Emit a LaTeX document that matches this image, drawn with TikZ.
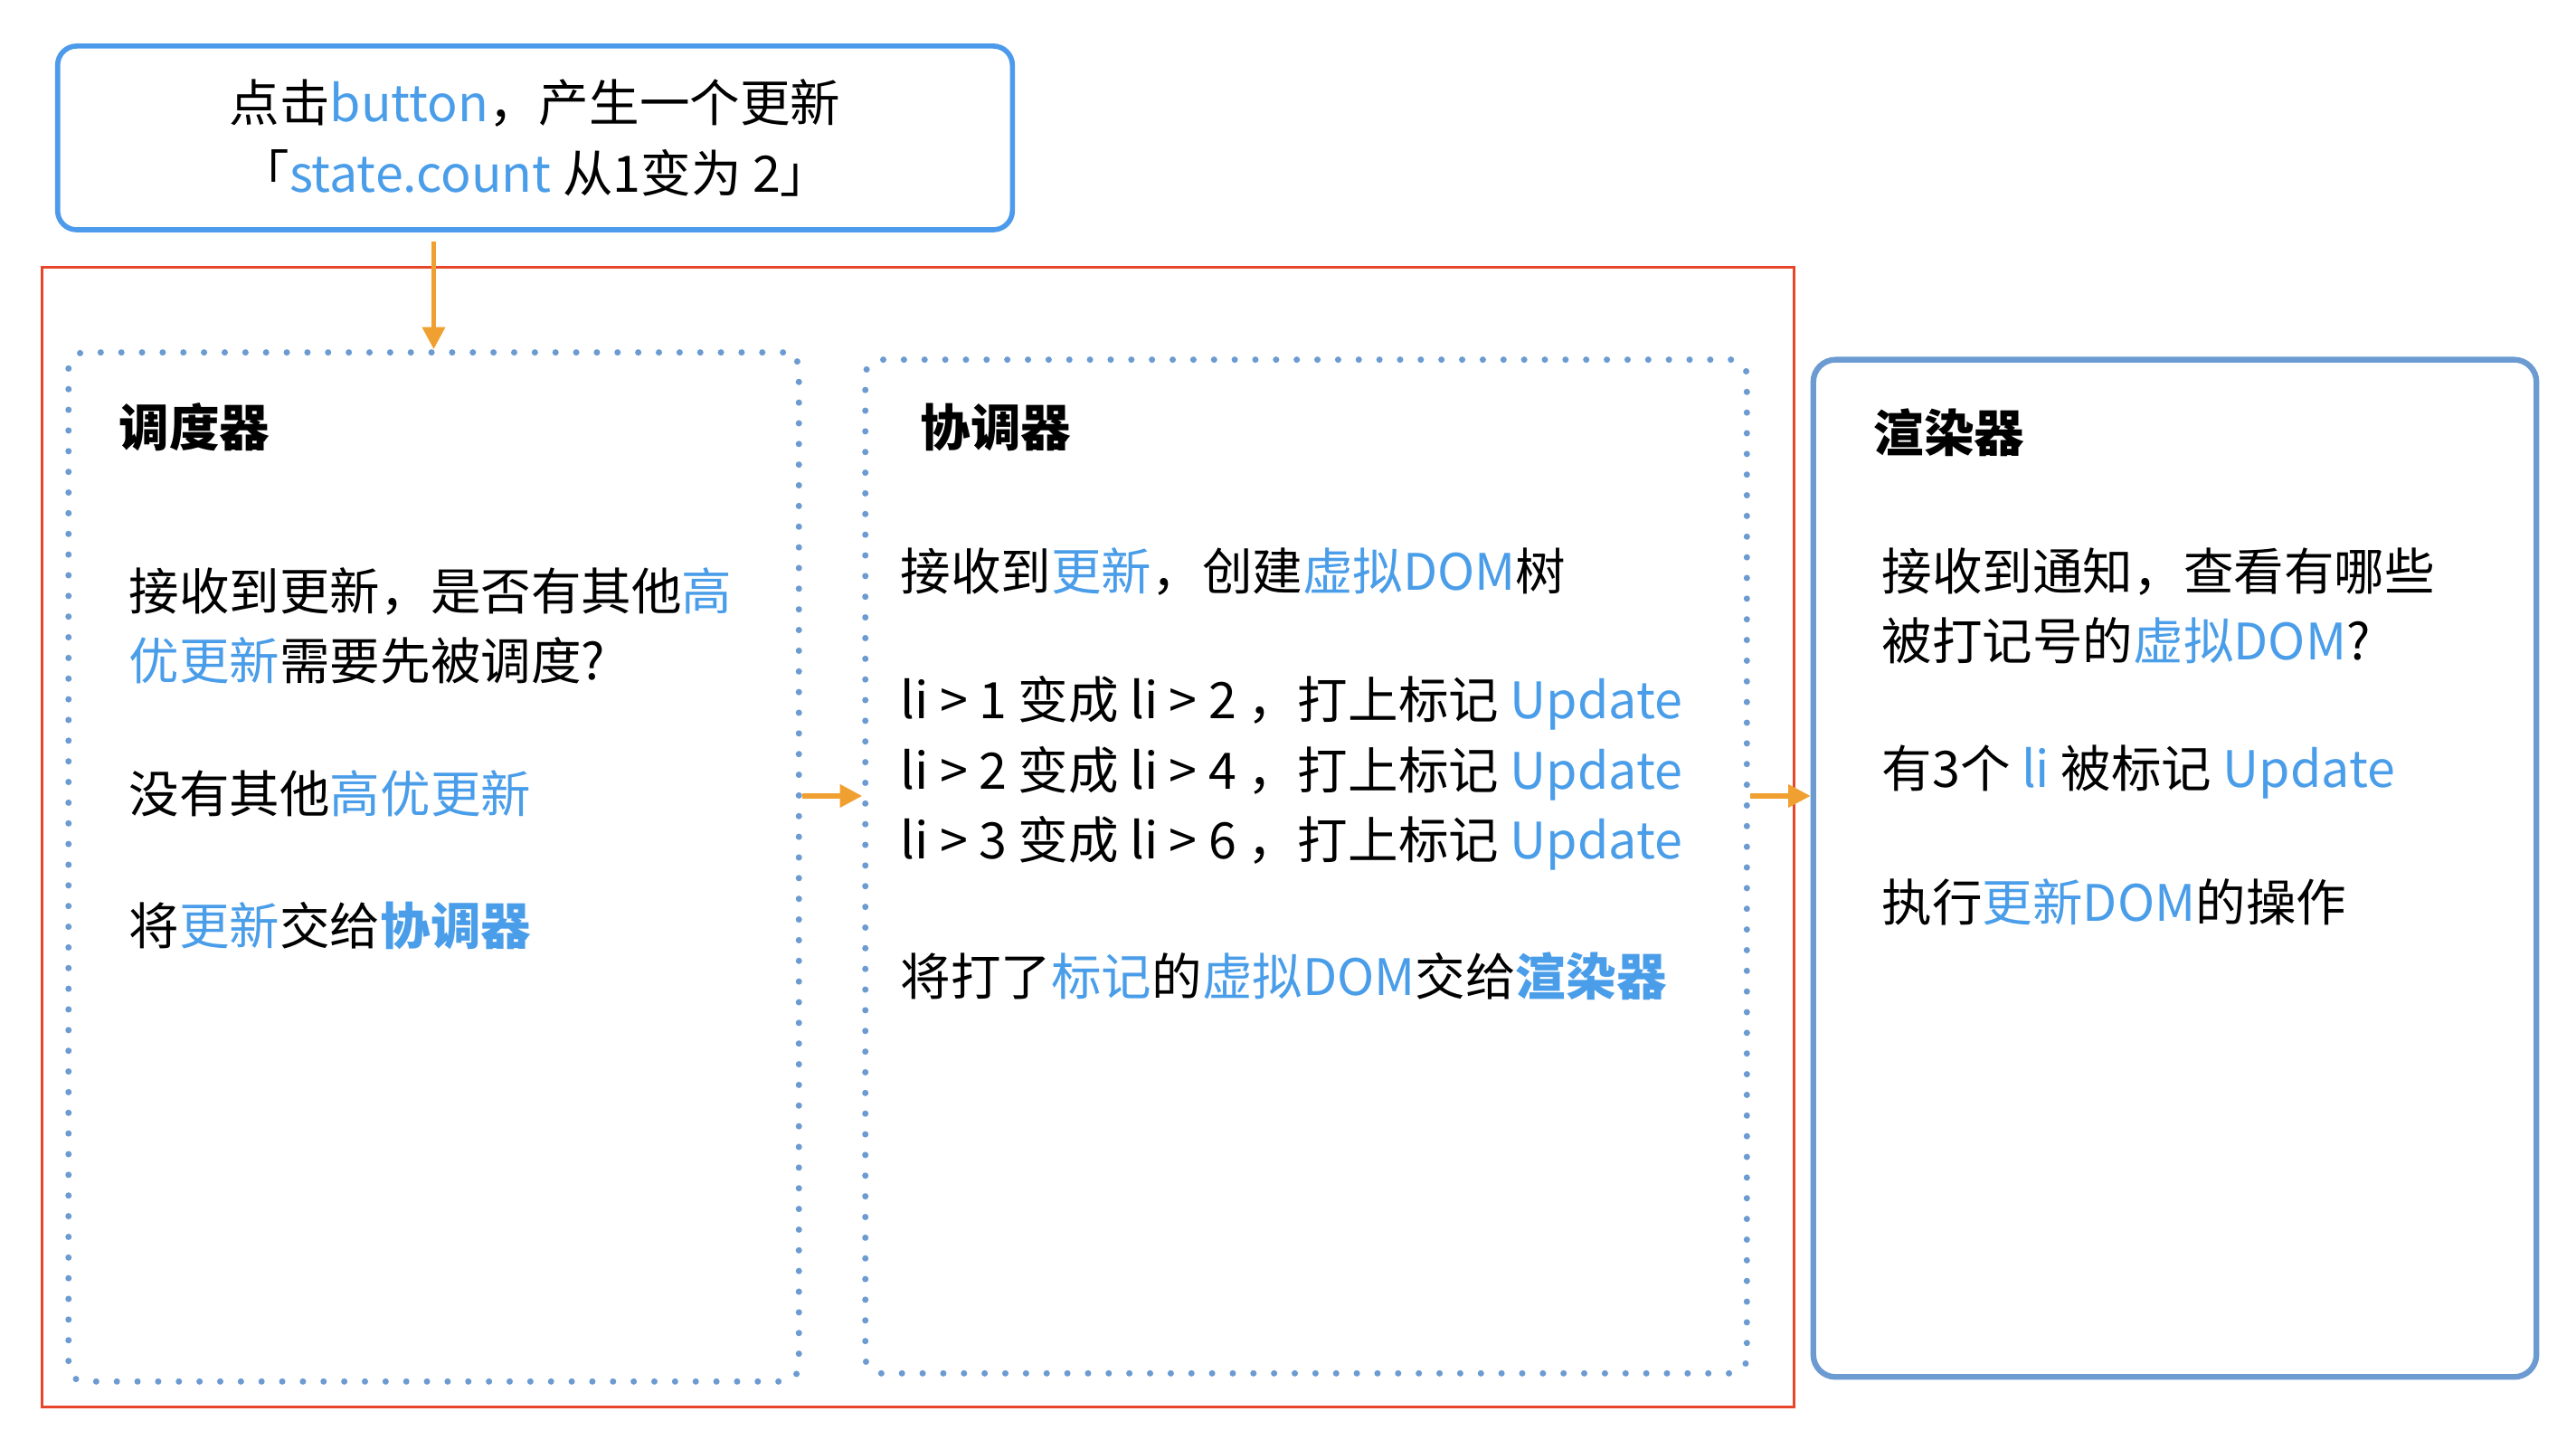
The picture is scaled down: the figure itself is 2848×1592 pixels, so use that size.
\documentclass[tikz,border=0pt]{standalone}
\usepackage{fontspec}
\usepackage{xcolor}
\usepackage{tikz}
\usetikzlibrary{arrows.meta}
\setmainfont{Noto Sans CJK SC}
\definecolor{reactblue}{RGB}{74,157,232}
\definecolor{reactframe}{RGB}{76,154,235}
\definecolor{reactsteel}{RGB}{108,155,210}
\definecolor{reactred}{RGB}{232,70,42}
\definecolor{reactorange}{RGB}{240,160,48}
\newcommand{\hlt}[1]{\textcolor{reactblue}{#1}}
\newcommand{\bodyfont}{\fontsize{15.8pt}{22pt}\selectfont}

\begin{document}
\begin{tikzpicture}[x=0.01cm,y=0.01cm,
  txt/.style={anchor=west,inner sep=0pt,align=left,font=\bodyfont},
  ttl/.style={anchor=west,inner sep=0pt,font=\bodyfont\bfseries},
  dotbox/.style={draw=reactsteel,line width=2pt,line cap=round,dash pattern=on 0pt off 6.5pt,rounded corners=5pt},
  flow/.style={draw=reactorange,line width=1.5pt,-{Triangle[length=7pt,width=7pt]}}]
  \useasboundingbox (0,0) rectangle (2848,1592);
  \node[draw=reactframe,line width=1.6pt,rounded corners=6pt,minimum width=10.55cm,minimum height=2.03cm,align=center,font=\bodyfont] (click) at (591.5,1439.5) {点击\hlt{button}，产生一个更新\\「\hlt{state.count} 从1变为 2」};
  \node[draw=reactred,line width=0.8pt,minimum width=19.36cm,minimum height=12.59cm] (frame) at (1015,666.5) {};
  \node[dotbox,minimum width=8.07cm,minimum height=11.37cm] (sched) at (479.5,633.5) {};
  \node[dotbox,minimum width=9.74cm,minimum height=11.20cm] (recon) at (1444,634) {};
  \node[draw=reactsteel,line width=1.8pt,rounded corners=7pt,minimum width=7.99cm,minimum height=11.24cm] (render) at (2404.5,632) {};

  \node[ttl] (schedT) at (131,1120) {调度器};
  \node[txt] (sched1) at (142,900) {接收到更新，是否有其他\hlt{高}\\\hlt{优更新}需要先被调度?};
  \node[txt] (sched2) at (142,715) {没有其他\hlt{高优更新}};
  \node[txt] (sched3) at (142,569) {将\hlt{更新}交给\hlt{\bfseries 协调器}};

  \node[ttl] (reconT) at (1017,1120) {协调器};
  \node[txt] (recon1) at (995,960) {接收到\hlt{更新}，创建\hlt{虚拟DOM}树};
  \node[txt] (recon2) at (995,737) {li > 1 变成 li > 2 ，打上标记 \hlt{Update}\\li > 2 变成 li > 4 ，打上标记 \hlt{Update}\\li > 3 变成 li > 6 ，打上标记 \hlt{Update}};
  \node[txt] (recon3) at (995,513) {将打了\hlt{标记}的\hlt{虚拟DOM}交给\hlt{\bfseries 渲染器}};

  \node[ttl] (renderT) at (2071,1114) {渲染器};
  \node[txt] (render1) at (2080,922) {接收到通知，查看有哪些\\被打记号的\hlt{虚拟DOM}?};
  \node[txt] (render2) at (2080,738) {有3个 \hlt{li} 被标记 \hlt{Update}};
  \node[txt] (render3) at (2080,595) {执行\hlt{更新DOM}的操作};

  \coordinate (drop) at (sched.north |- click.south);
  \coordinate (lvl) at (0,712);
  \draw[flow] ([yshift=-3pt]drop) -- (sched.north);
  \draw[flow] (sched.east |- lvl) -- (recon.west |- lvl);
  \draw[flow] (recon.east |- lvl) -- (render.west |- lvl);
\end{tikzpicture}
\end{document}
